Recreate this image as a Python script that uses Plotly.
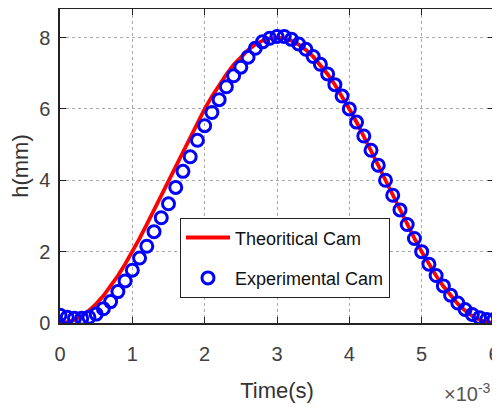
import plotly.graph_objects as go

# time in ms (axis shows x10^-3 s)
time_ms = [round(0.1 * i, 1) for i in range(61)]

theoretical_h = [0.0, 0.022, 0.088, 0.196, 0.346, 0.536, 0.764, 1.028, 1.324, 1.649,
                 2.0, 2.373, 2.764, 3.168, 3.582, 4.0, 4.418, 4.832, 5.236, 5.627,
                 6.0, 6.351, 6.676, 6.972, 7.236, 7.464, 7.654, 7.804, 7.912, 7.978,
                 8.0, 7.978, 7.912, 7.804, 7.654, 7.464, 7.236, 6.972, 6.676, 6.351,
                 6.0, 5.627, 5.236, 4.832, 4.418, 4.0, 3.582, 3.168, 2.764, 2.373,
                 2.0, 1.649, 1.324, 1.028, 0.764, 0.536, 0.346, 0.196, 0.088, 0.022, 0.0]

experimental_h = [0.22, 0.16, 0.13, 0.13, 0.16, 0.25, 0.40, 0.60, 0.88, 1.18,
                  1.48, 1.82, 2.15, 2.56, 2.95, 3.34, 3.80, 4.25, 4.66, 5.12,
                  5.53, 5.90, 6.26, 6.62, 6.93, 7.17, 7.45, 7.70, 7.88, 7.98,
                  8.03, 8.03, 7.95, 7.82, 7.67, 7.47, 7.25, 6.98, 6.68, 6.36,
                  6.0, 5.63, 5.24, 4.84, 4.42, 4.0, 3.58, 3.17, 2.76, 2.37,
                  2.0, 1.65, 1.33, 1.04, 0.78, 0.56, 0.38, 0.24, 0.15, 0.10, 0.10]

x_ticks = [0, 1, 2, 3, 4, 5, 6]
y_ticks = [0, 2, 4, 6, 8]

font_family = "Liberation Sans, Arial, sans-serif"

fig = go.Figure()
fig.add_trace(go.Scatter(
    x=time_ms, y=theoretical_h, mode="lines", name="Theoritical Cam",
    legendgroup="a",
    line=dict(color="#ff0000", width=3.8)))
fig.add_trace(go.Scatter(
    x=time_ms, y=experimental_h, mode="markers", name="Experimental Cam",
    legendgroup="b",
    marker=dict(symbol="circle-open", size=12, color="#0000ff",
                line=dict(width=3, color="#0000ff"))))

axis_common = dict(
    showline=True, linecolor="#222222", linewidth=1.5, mirror="ticks",
    ticks="inside", ticklen=6, tickcolor="#222222",
    showgrid=True, gridcolor="#a8a8a8", griddash="dot", gridwidth=1,
    zeroline=False, automargin=False, ticklabeloverflow="allow",
    tickfont=dict(size=20, color="#404040", family=font_family),
)

fig.update_xaxes(range=[0, 6], tickvals=x_ticks, ticklabelstandoff=12,
                 title=dict(text="Time(s)", font=dict(size=22, color="#333333", family=font_family), standoff=19),
                 **axis_common)
fig.update_yaxes(range=[0, 8.8], tickvals=y_ticks, ticklabelstandoff=4,
                 title=dict(text="h(mm)", font=dict(size=22, color="#333333", family=font_family), standoff=8),
                 **axis_common)

fig.add_annotation(x=0.998, y=-0.175, xref="paper", yref="paper",
                   text="×10<sup>-3</sup>", showarrow=False, xanchor="right", yanchor="top",
                   font=dict(size=20, color="#555555", family=font_family))

fig.update_layout(
    width=492, height=400,
    margin=dict(l=52, r=6, t=1, b=85),
    paper_bgcolor="white", plot_bgcolor="white",
    showlegend=True,
    legend=dict(x=0.276, y=0.334, xanchor="left", yanchor="top",
                bgcolor="white", bordercolor="#222222", borderwidth=1.2,
                font=dict(size=18, color="#111111", family=font_family),
                tracegroupgap=14, itemwidth=44),
)

fig.write_html("out.html")
